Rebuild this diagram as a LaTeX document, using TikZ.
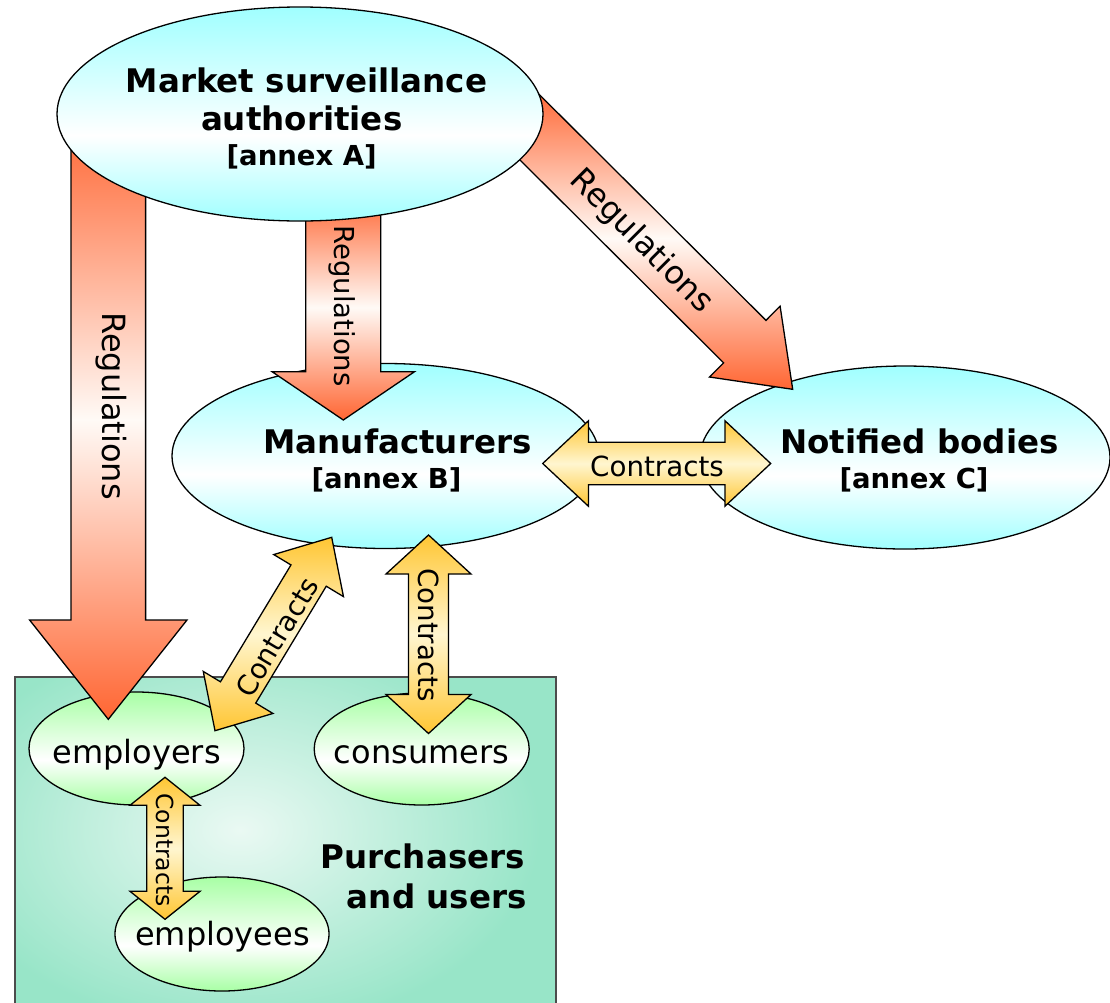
\documentclass[tikz,border=0pt]{standalone}
\usepackage{fontspec}
\setmainfont{DejaVu Sans}
\usetikzlibrary{calc,shapes.geometric}
\definecolor{cy}{RGB}{160,255,255}
\definecolor{gr}{RGB}{168,255,165}
\definecolor{rectg}{RGB}{152,229,200}
\definecolor{rectc}{RGB}{234,249,243}
\definecolor{org}{RGB}{255,102,51}
\definecolor{orw}{RGB}{255,250,246}
\definecolor{yel}{RGB}{255,198,51}
\definecolor{yelw}{RGB}{255,246,208}
\pgfdeclareverticalshading{cyshade}{100bp}{color(0bp)=(cy); color(25bp)=(cy); color(45bp)=(white); color(75bp)=(cy); color(100bp)=(cy)}
\pgfdeclareverticalshading{grshade}{100bp}{color(0bp)=(gr); color(25bp)=(gr); color(45bp)=(white); color(75bp)=(gr); color(100bp)=(gr)}
\newcommand\sarrow[6]{%
  \coordinate (hbX) at ($(#3)!#6!(#2)$);
  \path[#1] ($(#2)!#4!90:(#3)$) -- ($(hbX)!#4!90:(#3)$) -- ($(hbX)!#5!90:(#3)$) -- (#3)
    -- ($(hbX)!#5!-90:(#3)$) -- ($(hbX)!#4!-90:(#3)$) -- ($(#2)!#4!-90:(#3)$) -- cycle;}
\newcommand\darrow[6]{%
  \coordinate (haX) at ($(#2)!#6!(#3)$);
  \coordinate (hbX) at ($(#3)!#6!(#2)$);
  \path[#1] (#2) -- ($(haX)!#5!90:(#3)$) -- ($(haX)!#4!90:(#3)$) -- ($(hbX)!#4!90:(#3)$)
    -- ($(hbX)!#5!90:(#3)$) -- (#3) -- ($(hbX)!#5!-90:(#3)$) -- ($(hbX)!#4!-90:(#3)$)
    -- ($(haX)!#4!-90:(#3)$) -- ($(haX)!#5!-90:(#3)$) -- cycle;}
\tikzset{
  ell/.style={ellipse, draw=black, line width=1.3pt, inner sep=0pt, shade},
  cyell/.style={ell, shading=cyshade},
  grell/.style={ell, shading=grshade},
  regarr/.style={draw=black, line width=1.3pt, line join=miter, top color=org, bottom color=org, middle color=orw},
  conarr/.style={draw=black, line width=1.3pt, line join=miter, top color=yel, bottom color=yel, middle color=yelw},
  bigt/.style={font=\fontsize{32.5}{38}\selectfont\bfseries, anchor=base, inner sep=0pt},
  subt/.style={font=\fontsize{27.5}{33}\selectfont\bfseries, anchor=base, inner sep=0pt},
  plain/.style={font=\fontsize{32}{38}\selectfont, anchor=base, inner sep=0pt},
  lab/.style={inner sep=0pt},
}
\begin{document}
\begin{tikzpicture}[x=1pt,y=-1pt]
\useasboundingbox (0,0) rectangle (1110,1002);
\clip (0,0) rectangle (1110,1002);
% purchasers and users box
\fill[rectg] (15,677) rectangle (556,1012);
\begin{scope}
  \clip (15,677) rectangle (556,1012);
  \shade[inner color=rectc, outer color=rectg] (-60,630) rectangle (540,1030);
\end{scope}
\draw[black!70, line width=1.3pt] (15,677) rectangle (556,1012);
% lower ellipses
\node[cyell, minimum width=427pt, minimum height=185pt] (M) at (385.5,456) {};
\node[cyell, minimum width=410pt, minimum height=183pt] (N) at (905,457.5) {};
\node[grell, minimum width=215pt, minimum height=113pt] (EMP) at (136.5,748.5) {};
\node[grell, minimum width=215pt, minimum height=112pt] (CON) at (421.7,749) {};
\node[grell, minimum width=214pt, minimum height=114pt] (EMS) at (222,934) {};
% connector end points
\coordinate (r1s) at (108.3,120);  \coordinate (r1e) at (108.3,719.3);
\coordinate (r2s) at (343.3,195);  \coordinate (r2e) at (343.3,420);
\coordinate (r3s) at (511,108.7);  \coordinate (r3e) at (792.7,389.3);
\coordinate (c1s) at (542.7,463.5); \coordinate (c1e) at (770.7,463.5);
\coordinate (c2s) at (215,730.7);  \coordinate (c2e) at (331.7,537.3);
\coordinate (c3s) at (428.5,535);  \coordinate (c3e) at (428.5,733.5);
\coordinate (c4s) at (165,777.3);  \coordinate (c4e) at (165,919.3);
% regulation arrows
\sarrow{regarr}{r1s}{r1e}{37.3pt}{78.7pt}{99.3pt}
\sarrow{regarr}{r2s}{r2e}{37.5pt}{71.2pt}{48.3pt}
\sarrow{regarr}{r3s}{r3e}{30pt}{50pt}{67.6pt}
% contract arrows
\darrow{conarr}{c1s}{c1e}{21.2pt}{42.7pt}{45.7pt}
\darrow{conarr}{c2s}{c2e}{20.6pt}{40.7pt}{44.7pt}
\darrow{conarr}{c3s}{c3e}{20pt}{42.5pt}{39pt}
\darrow{conarr}{c4s}{c4e}{18.3pt}{35pt}{28pt}
% top ellipse
\node[cyell, minimum width=486pt, minimum height=214pt] (A) at (300,114) {};
% texts
\node[bigt] (A1) at (306.5,92) {Market surveillance};
\node[bigt] (A2) at (301.7,130) {authorities};
\node[subt] (A3) at (301.7,165.7) {[annex A]};
\node[bigt] (M1) at (397.5,453) {Manufacturers};
\node[subt] (M2) at (386.5,488) {[annex B]};
\node[bigt] (N1) at (919.5,453) {Notified bodies};
\node[subt] (N2) at (914,488) {[annex C]};
\node[plain] (E1) at (136.7,763) {employers};
\node[plain] (C1) at (421.5,763) {consumers};
\node[plain] (E2) at (222.5,945) {employees};
\node[bigt, anchor=base east] (P1) at (525,868) {Purchasers};
\node[bigt, anchor=base east] (P2) at (526.7,908) {and users};
% arrow labels
\node[lab, rotate=-90, font=\fontsize{32}{38}\selectfont] (L1) at (111,406) {Regulations};
\node[lab, rotate=-90, font=\fontsize{27.5}{33}\selectfont] (L2) at (342,306) {Regulations};
\node[lab, rotate=-45, font=\fontsize{32}{38}\selectfont] (L3) at (641,242) {Regulations};
\node[lab, font=\fontsize{27.7}{33}\selectfont] (K1) at (657,466) {Contracts};
\node[lab, rotate=59, font=\fontsize{27.7}{33}\selectfont] (K2) at (277,637) {Contracts};
\node[lab, rotate=-90, font=\fontsize{27.7}{33}\selectfont] (K3) at (429,635) {Contracts};
\node[lab, rotate=-90, font=\fontsize{23.5}{28}\selectfont] (K4) at (165,850) {Contracts};
\end{tikzpicture}
\end{document}
